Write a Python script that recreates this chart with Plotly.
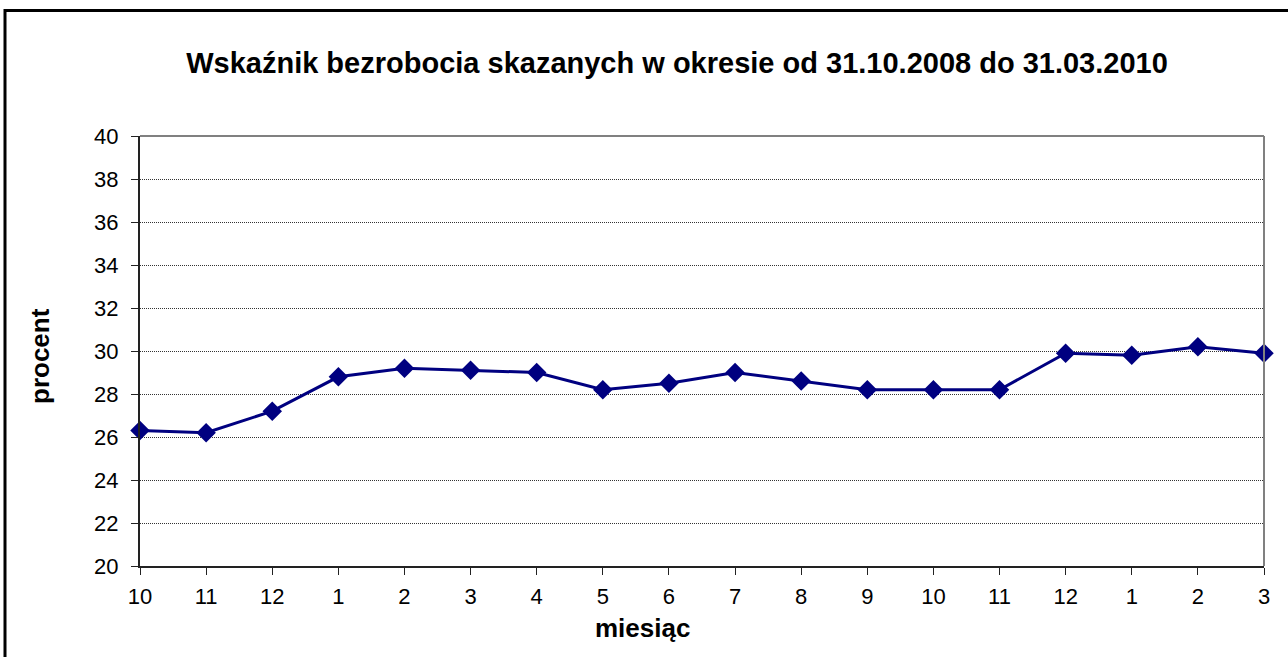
import plotly.graph_objects as go

# Data
month_labels = ["10", "11", "12", "1", "2", "3", "4", "5", "6", "7", "8", "9",
                "10", "11", "12", "1", "2", "3"]
unemployment_pct = [26.3, 26.2, 27.2, 28.8, 29.2, 29.1, 29.0, 28.2, 28.5, 29.0,
                    28.6, 28.2, 28.2, 28.2, 29.9, 29.8, 30.2, 29.9]
y_ticks = list(range(20, 41, 2))

positions = list(range(len(month_labels)))

W, H = 1288, 657
L, R, T, B = 140, 24, 136, 91
pw, ph = W - L - R, H - T - B

def px(x):
    return (x - L) / pw

def py(y):
    return (H - B - y) / ph

fig = go.Figure()
fig.add_trace(go.Scatter(
    x=positions, y=unemployment_pct, mode="lines+markers",
    line=dict(color="#000080", width=3),
    marker=dict(symbol="diamond", size=15, color="#000080"),
    cliponaxis=False, showlegend=False,
))

font_family = "Liberation Sans, Arial, sans-serif"

fig.update_layout(
    width=W, height=H,
    margin=dict(l=L, r=R, t=T, b=B),
    paper_bgcolor="white", plot_bgcolor="white",
    font=dict(family=font_family, color="black"),
    title=dict(
        text="<b>Wskaźnik bezrobocia skazanych w okresie od 31.10.2008 do 31.03.2010</b>",
        x=677 / W, xanchor="center", xref="container",
        y=1 - 63 / H, yanchor="middle", yref="container",
        font=dict(size=29, family=font_family, color="black"),
    ),
    xaxis=dict(
        range=[0, len(month_labels) - 1],
        tickmode="array", tickvals=positions, ticktext=month_labels,
        showgrid=False, zeroline=False,
        showline=True, linecolor="#222222", linewidth=2,
        ticks="outside", ticklen=7, tickwidth=1, tickcolor="#222222",
        ticklabelstandoff=3,
        tickfont=dict(size=22, family=font_family, color="black"),
        fixedrange=True,
    ),
    yaxis=dict(
        range=[20, 40], tickmode="array", tickvals=y_ticks,
        showgrid=True, gridcolor="#333333", griddash="1px,1px", gridwidth=1,
        zeroline=False,
        showline=True, linecolor="#222222", linewidth=2,
        ticks="outside", ticklen=7, tickwidth=1, tickcolor="#222222",
        ticklabelstandoff=8,
        tickfont=dict(size=22, family=font_family, color="black"),
        fixedrange=True,
    ),
    shapes=[
        # plot area top and right borders (gray)
        dict(type="line", xref="paper", yref="paper", x0=0, x1=1, y0=1, y1=1,
             line=dict(color="#808080", width=2)),
        dict(type="line", xref="paper", yref="paper", x0=1, x1=1, y0=0, y1=1,
             line=dict(color="#808080", width=2)),
        # outer chart border
        dict(type="rect", xref="paper", yref="paper",
             x0=px(5), x1=px(1292), y0=py(662), y1=py(10.5),
             line=dict(color="black", width=3), fillcolor="rgba(0,0,0,0)", layer="above"),
    ],
    annotations=[
        dict(text="<b>miesiąc</b>", xref="paper", yref="paper",
             x=px(642), y=py(628), xanchor="center", yanchor="middle",
             showarrow=False, font=dict(size=26, family=font_family, color="black")),
        dict(text="<b>procent</b>", xref="paper", yref="paper",
             x=px(40), y=py(356), xanchor="center", yanchor="middle", textangle=-90,
             showarrow=False, font=dict(size=26, family=font_family, color="black")),
    ],
)

fig.write_html("out.html", config={"displayModeBar": False},
               post_script="document.body.style.margin='0';document.body.style.overflow='hidden';")
